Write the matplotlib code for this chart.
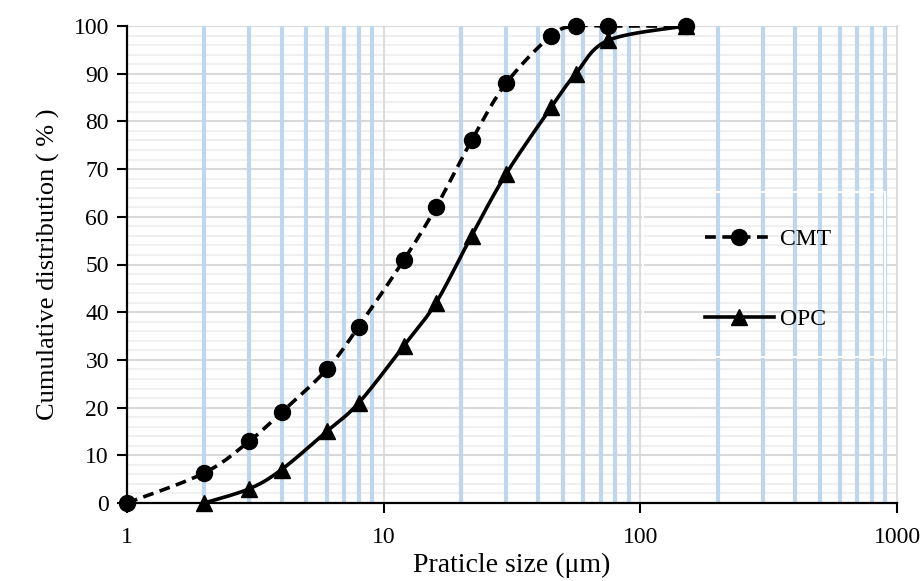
import numpy as np
import matplotlib
matplotlib.use("Agg")
import matplotlib.pyplot as plt
from matplotlib.patches import Rectangle

# ---- data ----
cmt_size = [1, 2, 3, 4, 6, 8, 12, 16, 22, 30, 45, 56, 75, 150]
cmt_cum = [0, 6.3, 13, 19, 28, 37, 51, 62, 76, 88, 98, 100, 100, 100]
opc_size = [2, 3, 4, 6, 8, 12, 16, 22, 30, 45, 56, 75, 150]
opc_cum = [0, 3, 7, 15, 21, 33, 42, 56, 69, 83, 90, 97, 100]
x_ticks = [1, 10, 100, 1000]
x_tick_labels = ["1", "10", "100", "1000"]
y_ticks = list(range(0, 101, 10))

plt.rcParams['font.family'] = ['Liberation Serif', 'DejaVu Serif']
FS = 17
LW = 2.6
MS = 11.5
DASH = (3.0, 1.8)

fig = plt.figure(figsize=(9.24, 5.81), dpi=100)
ax = fig.add_axes([127/924, 1-503/581, (897-127)/924, (503-26)/581])
ax.set_xscale('log')
ax.set_xlim(1, 1000)
ax.set_ylim(0, 100)

# grid
minor_x = [m * d for d in (1, 10, 100) for m in range(2, 10)]
for xv in minor_x:
    ax.axvline(xv, color='#BDD7EE', lw=3.0, zorder=1)
for xv in (10, 100):
    ax.axvline(xv, color='#D9D9D9', lw=1.3, zorder=1)
for yv in range(2, 100, 2):
    if yv % 10:
        ax.axhline(yv, color='#F0F0F0', lw=1.5, zorder=0.5)
for yv in range(10, 101, 10):
    ax.axhline(yv, color='#D9D9D9', lw=1.5, zorder=0.8)

ax.figure.canvas.draw()


def smooth(xs, ys, n=30):
    pts = ax.transData.transform(np.column_stack([xs, ys]))
    out = []
    m = len(pts)
    for i in range(m - 1):
        p0 = pts[i - 1] if i > 0 else pts[i]
        p1 = pts[i]
        p2 = pts[i + 1]
        p3 = pts[i + 2] if i + 2 < m else pts[i + 1]
        c1 = p1 + (p2 - p0) / 6.0
        c2 = p2 - (p3 - p1) / 6.0
        t = np.linspace(0, 1, n)[:, None]
        seg = ((1 - t) ** 3) * p1 + 3 * ((1 - t) ** 2) * t * c1 + 3 * (1 - t) * t ** 2 * c2 + t ** 3 * p2
        out.append(seg if i == 0 else seg[1:])
    out = np.vstack(out)
    d = ax.transData.inverted().transform(out)
    return d[:, 0], d[:, 1]


sx, sy = smooth(cmt_size, cmt_cum)
ax.plot(sx, sy, color='black', lw=LW, dashes=DASH, zorder=3)
ax.plot(cmt_size, cmt_cum, 'o', color='black', ms=MS, zorder=4, clip_on=False)
ox, oy = smooth(opc_size, opc_cum)
ax.plot(ox, oy, color='black', lw=LW, zorder=3)
ax.plot(opc_size, opc_cum, '^', color='black', ms=MS, zorder=4, clip_on=False)

# legend handles
h1, = ax.plot([], [], color='black', lw=LW, dashes=DASH, marker='o', ms=MS)
h2, = ax.plot([], [], color='black', lw=LW, marker='^', ms=MS)
leg = ax.legend([h1, h2], ['CMT', 'OPC'], loc='upper left',
                bbox_to_anchor=(684/924, 1-207/581), bbox_transform=fig.transFigure,
                frameon=False, fontsize=FS, labelspacing=2.5, handlelength=2.9,
                handletextpad=0.25, numpoints=1)
fig.patches.append(Rectangle((643/924, 1-357/581), (885-643)/924, (357-192)/581,
                             transform=fig.transFigure, fill=False, ec='white', lw=1.5, zorder=5))

# axes styling
ax.set_xticks(x_ticks)
ax.set_xticklabels(x_tick_labels)
ax.xaxis.set_minor_locator(matplotlib.ticker.NullLocator())
ax.set_yticks(y_ticks)
ax.tick_params(axis='both', labelsize=FS, direction='out', length=7, width=1.5, color='black')
ax.tick_params(axis='x', pad=10)
ax.tick_params(axis='y', pad=6)
ax.spines['top'].set_visible(False)
ax.spines['right'].set_color('#D9D9D9')
ax.spines['right'].set_linewidth(1.3)
ax.spines['left'].set_linewidth(1.6)
ax.spines['bottom'].set_linewidth(1.6)
ax.set_axisbelow(True)

ax.set_xlabel('Praticle size (μm)', fontsize=20, labelpad=4)
ax.set_ylabel('Cumulative distribution ( % )', fontsize=19, labelpad=10)

fig.savefig('out.png', dpi=100)
